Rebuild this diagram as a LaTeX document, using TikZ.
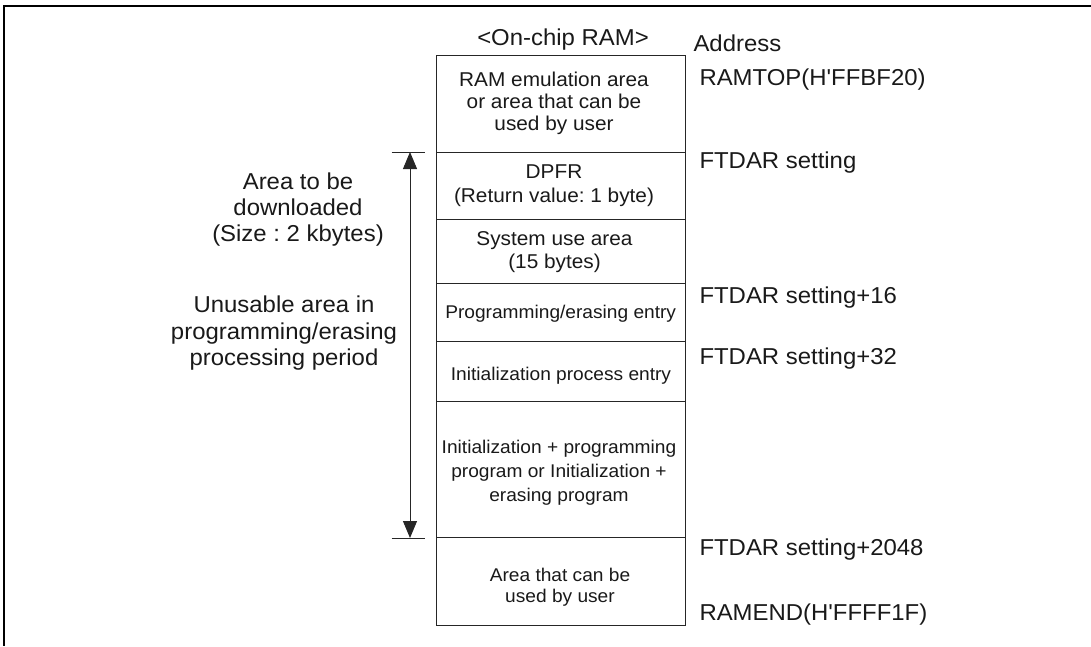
\documentclass[tikz,border=0pt]{standalone}
\usepackage{fontspec}
\setmainfont{Liberation Sans}[FakeStretch=1.04, Ligatures=TeXOff]
\usetikzlibrary{arrows.meta}
\frenchspacing
\begin{document}
\begin{tikzpicture}[x=1pt,y=-1pt,
  cell/.style={draw=black!85, line width=1pt, minimum width=248.3pt, inner sep=0pt, outer sep=0pt},
  lab/.style={inner sep=0pt, text=black!90, font=\fontsize{23}{26}\selectfont},
  txa/.style={inner sep=0pt, align=center, text=black!90, font=\fontsize{20}{#1}\selectfont},
  txb/.style={inner sep=0pt, align=center, text=black!90, font=\fontsize{18.4}{#1}\selectfont},
  tick/.style={line width=1pt, draw=black!85},
  frame/.style={line width=2pt, draw=black},
  span/.style={tick, >={Triangle[width=14pt,length=17pt]}, <->}
]
\useasboundingbox (0,0) rectangle (1091,646);

% outer frame
\coordinate (fr1) at (1091,6);
\coordinate (fr2) at (4,6);
\coordinate (fr3) at (4,646);
\draw[frame] (fr1) -- (fr2) -- (fr3);

% memory cells
\node[cell, minimum height=96.3pt] (c1) at (560.85,103.85) {};
\node[cell, minimum height=67.5pt] (c2) at (560.85,185.75) {};
\node[cell, minimum height=64pt]   (c3) at (560.85,251.5) {};
\node[cell, minimum height=58.2pt] (c4) at (560.85,312.6) {};
\node[cell, minimum height=60pt]   (c5) at (560.85,371.7) {};
\node[cell, minimum height=136pt]  (c6) at (560.85,469.7) {};
\node[cell, minimum height=88pt]   (c7) at (560.85,581.7) {};

% cell texts
\node[txa=22] (t1) at (554,103.5) {RAM emulation area\\or area that can be\\used by user};
\node[txa=24] (t2) at (554,185.75) {DPFR\\(Return value: 1 byte)};
\node[txa=23.3] (t3) at (554.5,251.8) {System use area\\(15 bytes)};
\node[txb=20] (t4) at (560.7,313.8) {Programming/erasing entry};
\node[txb=20] (t5) at (561,375.3) {Initialization process entry};
\node[txb=24] (t6) at (559,472.5) {Initialization + programming\\program or Initialization +\\erasing program};
\node[txb=20.5] (t7) at (560,587) {Area that can be\\used by user};

% headings
\node[lab, anchor=base] (title) at (563,45) {<On-chip RAM>};
\node[lab, anchor=base west] (addr) at (693.3,51.5) {Address};

% addresses
\node[lab, anchor=base west] (r1) at (699.3,85) {RAMTOP(H'FFBF20)};
\node[lab, anchor=base west] (r2) at (699.3,168.3) {FTDAR setting};
\node[lab, anchor=base west] (r3) at (699.3,303.3) {FTDAR setting+16};
\node[lab, anchor=base west] (r4) at (699.3,364) {FTDAR setting+32};
\node[lab, anchor=base west] (r5) at (699.3,555) {FTDAR setting+2048};
\node[lab, anchor=base west] (r6) at (699.3,620) {RAMEND(H'FFFF1F)};

% left descriptions
\node[lab, align=center] (dl) at (298,209.6) {Area to be\\downloaded\\(Size : 2 kbytes)};
\node[lab, align=center, font=\fontsize{23}{26.5}\selectfont] (un) at (284,333.1) {Unusable area in\\programming/erasing\\processing period};

% span arrow with ticks
\coordinate (k1a) at (391.7,152);
\coordinate (k1b) at (425,152);
\coordinate (k2a) at (391.7,538);
\coordinate (k2b) at (425,538);
\coordinate (a1) at (410,152);
\coordinate (a2) at (410,538);
\draw[tick] (k1a) -- (k1b);
\draw[tick] (k2a) -- (k2b);
\draw[span] (a1) -- (a2);
\end{tikzpicture}
\end{document}
